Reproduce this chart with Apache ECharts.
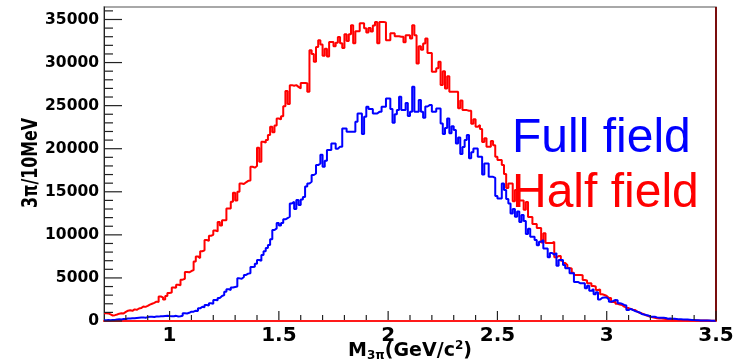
<!DOCTYPE html>
<html><head><meta charset="utf-8">
<script src="https://cdn.jsdelivr.net/npm/echarts@6/dist/echarts.min.js"></script>
<style>html,body{margin:0;padding:0;background:#fff}#c{width:751px;height:362px}</style>
</head><body><div id="c"></div>
<script>
// Histogram binning (GeV/c^2): bins of 10 MeV starting at 0.70
const binStart = 0.70;
const binWidth = 0.01;

// Half field (red), counts per 10 MeV bin, 0.70 .. 3.49
const halfField = [
  900, 880, 760, 640, 680, 760, 850, 900, 880, 1050,
  1200, 1250, 1180, 1350, 1300, 1450, 1500, 1680, 1640, 1750,
  1900, 2000, 2100, 2250, 2200, 2850, 2750, 2500, 2900, 3250,
  3300, 3900, 3850, 4200, 4150, 4800, 4900, 5700, 5650, 5800,
  5900, 6900, 7500, 7300, 8100, 8200, 9400, 9300, 9900, 10000,
  10500, 10400, 11500, 11100, 11700, 11700, 13070, 13070, 13840, 14900,
  14000, 15000, 15970, 15900, 16100, 16270, 16300, 17900, 17800, 18000,
  20100, 18500, 20800, 20700, 21000, 21580, 22540, 21900, 22700, 23510,
  23400, 23780, 24940, 26710, 25200, 27380, 27300, 27380, 27180, 27000,
  27640, 27640, 27600, 26600, 31440, 31000, 30080, 31820, 32600, 32100,
  30800, 31600, 30700, 32400, 32400, 31900, 32300, 32980, 32250, 31700,
  33300, 32500, 33300, 34340, 32250, 33640, 33640, 34570, 34570, 33990,
  33500, 34000, 33600, 34300, 34720, 32250, 34720, 34720, 34650, 32600,
  32600, 33400, 33400, 33060, 33060, 33000, 33000, 32370, 33180, 33180,
  32800, 34340, 33180, 29900, 31900, 31500, 32200, 32800, 31100, 31100,
  28920, 28920, 29350, 30080, 27400, 29000, 27000, 28400, 26600, 26600,
  26600, 26600, 24700, 25600, 24480, 24480, 24400, 24400, 22900, 23430,
  22540, 22740, 22300, 20770, 21200, 20220, 20220, 20900, 20400, 19060,
  18680, 18680, 18100, 17050, 15430, 15970, 15970, 13900, 15200, 15200,
  14000, 14000, 12900, 13800, 12060, 12060, 11250, 11250, 10800, 10800,
  9100, 10200, 9050, 9050, 9050, 9200, 7400, 7540, 7540, 7000,
  6730, 6500, 6150, 6100, 5600, 5340, 5340, 5340, 5300, 4760,
  4700, 4370, 4370, 4060, 4000, 3600, 3650, 3100, 3020, 2900,
  2670, 2670, 2200, 2250, 2000, 1900, 1860, 1660, 1550, 1500,
  1400, 1300, 1280, 1100, 950, 890, 800, 650, 580, 500,
  420, 380, 330, 300, 280, 250, 230, 200, 190, 180,
  170, 160, 140, 130, 120, 110, 100, 95, 90, 80,
  75, 70, 60, 55, 50, 45, 40, 35, 30, 28
];

// Full field (blue), counts per 10 MeV bin, 0.70 .. 3.49
const fullField = [
  100, 110, 90, 120, 130, 180, 200, 170, 220, 240,
  300, 280, 320, 310, 350, 380, 400, 420, 380, 450,
  480, 500, 470, 520, 510, 560, 540, 580, 600, 570,
  560, 550, 600, 520, 560, 620, 900, 880, 950, 1080,
  1080, 1200, 1150, 1470, 1660, 1600, 1860, 1800, 2050, 2000,
  2440, 2400, 2670, 2900, 3000, 3400, 3700, 3600, 3900, 3950,
  4000, 4950, 4900, 5100, 5350, 5500, 5530, 6260, 6300, 6650,
  7080, 7000, 7660, 8100, 8470, 8820, 9500, 10560, 10750, 11370,
  11100, 11370, 11800, 11950, 12100, 13650, 13840, 13000, 14040, 13460,
  14100, 14400, 15600, 15970, 16160, 16940, 17130, 18100, 18290, 19300,
  17900, 18600, 19840, 19840, 20610, 20610, 20000, 20220, 20220, 22350,
  22350, 21960, 21960, 21960, 21960, 23120, 24090, 24090, 21700, 23700,
  24860, 24600, 24600, 24090, 24090, 24280, 24280, 24860, 24860, 25830,
  25830, 24600, 23000, 24000, 24500, 26020, 24500, 24500, 25300, 23800,
  24300, 27180, 24280, 24280, 25640, 24280, 23600, 24900, 25060, 25060,
  24280, 24280, 24670, 24670, 22930, 21700, 22400, 23510, 21800, 22600,
  22160, 20600, 21300, 19400, 20200, 21000, 21580, 18900, 19600, 20030,
  20030, 19060, 19060, 17000, 18290, 18290, 16740, 16740, 16600, 14500,
  14230, 14230, 15970, 15200, 14150, 13650, 12490, 12990, 12100, 12700,
  11500, 12300, 11600, 10100, 10700, 9780, 9780, 9400, 8800, 9200,
  9400, 8430, 8430, 7400, 7900, 7700, 7900, 6400, 7080, 7080,
  6500, 6110, 6110, 5530, 5530, 4520, 4520, 4370, 4370, 4370,
  3800, 4100, 3500, 3700, 3100, 3350, 2500, 2700, 2730, 2730,
  2500, 2240, 2320, 2440, 2400, 2050, 2000, 1860, 1800, 1280,
  1400, 1280, 1150, 1080, 1000, 810, 750, 700, 650, 500,
  480, 500, 420, 380, 370, 380, 350, 270, 280, 260,
  250, 230, 190, 200, 180, 170, 160, 140, 110, 120,
  100, 90, 70, 60, 55, 50, 45, 40, 35, 30
];

// Axis ranges and tick values
const xRange = [0.7, 3.5];
const yRange = [0, 36450];
const yStep = 5000;
const xLabelTicks = [1, 1.5, 2, 2.5, 3, 3.5];
const xMinorTicks = [0.8, 0.9, 1.1, 1.2, 1.3, 1.4, 1.6, 1.7, 1.8, 1.9, 2.1, 2.2, 2.3, 2.4, 2.6, 2.7, 2.8, 2.9, 3.1, 3.2, 3.3, 3.4];
const yLabelTicks = [0, 5000, 10000, 15000, 20000, 25000, 30000, 35000];
const yMinorTicks = [1000, 2000, 3000, 4000, 6000, 7000, 8000, 9000, 11000, 12000, 13000, 14000,
  16000, 17000, 18000, 19000, 21000, 22000, 23000, 24000, 26000, 27000, 28000, 29000,
  31000, 32000, 33000, 34000, 36000];

const legendTexts = ['Full field', 'Half field'];
const yTitle = '3\u03c0/10MeV';

function toSteps(vals) {
  const pts = vals.map((v, i) => [+(binStart + i * binWidth).toFixed(2), v]);
  pts.push([+(binStart + vals.length * binWidth).toFixed(2), vals[vals.length - 1]]);
  return pts;
}

// Inside tick marks (ROOT style) drawn as thin filled bars through the cartesian scales
function tickSeries(values, isY, len) {
  return {
    type: 'custom', xAxisIndex: 0, yAxisIndex: 0, clip: false, z: 12,
    data: values.map(v => isY ? [xRange[0], v] : [v, yRange[0]]),
    renderItem: (params, api) => {
      const p = api.coord([api.value(0), api.value(1)]);
      if (isY) {
        return {type: 'rect', shape: {x: p[0], y: p[1] - 0.6, width: len, height: 1.2}, style: {fill: '#222'}};
      }
      return {type: 'rect', shape: {x: p[0] - 0.6, y: p[1] - 1 - len, width: 1.2, height: len}, style: {fill: '#222'}};
    }
  };
}

// X tick labels placed at their values on the x scale
const xLabelSeries = {
  type: 'custom', xAxisIndex: 0, yAxisIndex: 0, clip: false, z: 10,
  data: xLabelTicks.map(v => [v, yRange[0]]),
  renderItem: (params, api) => {
    const v = api.value(0);
    const p = api.coord([v, api.value(1)]);
    return {type: 'text', x: p[0], y: p[1] + 5,
      style: {text: String(v), font: 'bold 20px "DejaVu Sans"', fill: '#000', align: 'center', verticalAlign: 'top'}};
  }
};

// Right frame edge (dark red) at the x-axis maximum
const rightEdgeSeries = {
  type: 'custom', xAxisIndex: 0, yAxisIndex: 0, clip: false, z: 9,
  data: [[xRange[1], yRange[0], yRange[1]]],
  renderItem: (params, api) => {
    const a = api.coord([api.value(0), api.value(1)]);
    const b = api.coord([api.value(0), api.value(2)]);
    return {type: 'line', shape: {x1: a[0], y1: a[1], x2: b[0], y2: b[1]}, style: {stroke: '#7a0d0d', lineWidth: 2}};
  }
};

const chart = echarts.init(document.getElementById('c'));
const off = {show: false};

chart.setOption({
  animation: false,
  backgroundColor: '#ffffff',
  grid: {left: 104, right: 35, top: 7, bottom: 41, show: true, borderColor: '#8c8c8c', borderWidth: 1.5,
    backgroundColor: 'transparent'},
  xAxis: {type: 'value', min: xRange[0], max: xRange[1],
    axisLine: {show: true, onZero: false, lineStyle: {color: '#ff1a1a', width: 2}},
    axisTick: off, axisLabel: off, splitLine: off},
  yAxis: {type: 'value', min: yRange[0], max: yRange[1], interval: yStep,
    axisLine: {show: true, onZero: false, lineStyle: {color: '#222', width: 1}},
    axisTick: off,
    axisLabel: {show: true, showMaxLabel: false, margin: 5, color: '#000',
      formatter: v => String(v),
      fontFamily: 'DejaVu Sans', fontWeight: 'bold', fontSize: 15.5},
    splitLine: off},
  series: [
    {type: 'line', name: legendTexts[1], data: toSteps(halfField), step: 'end', showSymbol: false,
      lineStyle: {color: '#ff0000', width: 2}, itemStyle: {color: '#ff0000'}, z: 3},
    {type: 'line', name: legendTexts[0], data: toSteps(fullField), step: 'end', showSymbol: false,
      lineStyle: {color: '#0000ff', width: 2}, itemStyle: {color: '#0000ff'}, z: 4},
    tickSeries(yLabelTicks, true, 18),
    tickSeries(yMinorTicks, true, 9),
    tickSeries(xLabelTicks, false, 9),
    tickSeries(xMinorTicks, false, 5),
    xLabelSeries,
    rightEdgeSeries
  ],
  graphic: [
    {type: 'text', x: 31, y: 163, rotation: Math.PI / 2, scaleX: 0.72,
      style: {text: yTitle, font: 'bold 22px "DejaVu Sans"', fill: '#000', align: 'center', verticalAlign: 'middle'}},
    {type: 'text', x: 410, y: 351,
      style: {text: '{m|M}{s|3\u03c0}{m|(GeV/c}{p|2}{m|)}', align: 'center', verticalAlign: 'middle', fill: '#000',
        rich: {
          m: {fontFamily: 'DejaVu Sans', fontWeight: 'bold', fontSize: 19, lineHeight: 22, verticalAlign: 'middle'},
          s: {fontFamily: 'DejaVu Sans', fontWeight: 'bold', fontSize: 12, lineHeight: 12, verticalAlign: 'bottom'},
          p: {fontFamily: 'DejaVu Sans', fontWeight: 'bold', fontSize: 12, lineHeight: 12, verticalAlign: 'top'}
        }}},
    {type: 'text', x: 512, y: 139,
      style: {text: legendTexts[0], font: '48px "Liberation Sans"', fill: '#0000ff', align: 'left', verticalAlign: 'middle'}},
    {type: 'text', x: 512, y: 194,
      style: {text: legendTexts[1], font: '48px "Liberation Sans"', fill: '#ff0000', align: 'left', verticalAlign: 'middle'}}
  ]
});
</script>
</body></html>
